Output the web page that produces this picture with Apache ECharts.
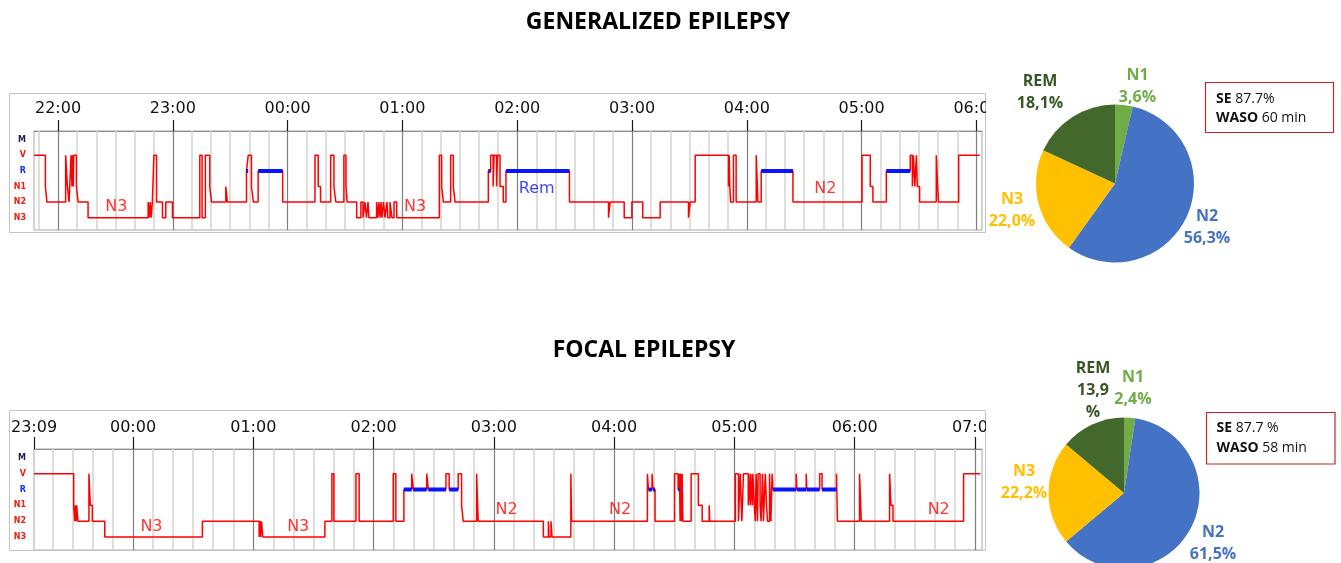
<!DOCTYPE html>
<html><head><meta charset="utf-8">
<script src="https://cdn.jsdelivr.net/npm/echarts@6/dist/echarts.min.js"></script>
<style>html,body{margin:0;padding:0;background:#fff}#c{width:1341px;height:563px}</style>
</head><body><div id="c"></div>
<script>
// ---------- DATA ----------
// Stage levels (bottom to top)
const STAGES = ['N3', 'N2', 'N1', 'R', 'V', 'M'];

// Generalized epilepsy hypnogram: start time of each epoch run (minutes since 00:00 of first day) and stage
const GEN_T = [1307.5,1313.4,1314.2,1324.0,1324.9,1325.8,1326.8,1327.3,1327.6,1328.0,1328.2,1329.6,1330.5,1335.7,
  1367.1,1367.7,1368.2,1368.7,1369.3,1370.1,1371.5,1374.6,1376.3,1379.8,1394.1,1395.3,1397.0,1399.3,1400.2,1407.7,1408.5,
  1418.5,1419.4,1421.1,1422.1,1424.6,1437.4,1454.3,1456.0,1457.2,1462.5,1464.2,1465.2,1469.4,1470.5,1471.1,
  1476.1,1478.3,1479.4,1480.4,1481.2,1482.0,1482.5,1486.5,1487.2,1487.7,1488.3,1488.8,1489.3,1490.1,1490.9,1491.9,1492.4,1493.5,1494.5,1495.6,1497.0,
  1519.3,1520.5,1521.4,1525.2,1526.6,1527.5,1544.9,1546.1,1547.4,1547.9,1549.2,1549.7,1551.0,1552.7,1554.1,
  1587.3,1607.7,1608.5,1615.9,1619.9,1625.6,1634.7,1649.5,1650.4,1653.0,1670.4,1670.8,1671.1,1671.5,1673.0,1674.4,
  1684.9,1685.8,1687.5,1704.1,1740.2,1744.5,1745.9,1752.9,1765.4,1766.5,1767.0,1767.8,1768.6,1769.1,1770.3,
  1779.0,1779.7,1780.2,1790.7];
const GEN_S = ['V','N1','N2','V','N1','N2','V','N1','V','N1','V','N1','N2','N3',
  'N2','N3','N2','N3','N2','V','N2','N3','N2','N3','V','N3','V','N1','N2','N1','N2',
  'R','V','N1','N2','R','N2','V','N1','N2','V','N1','N2','V','N1','N2',
  'N3','N2','N3','N2','N3','N2','N3','N2','N3','N2','N3','N2','N3','N2','N3','N2','N3','N2','N3','N2','N3',
  'V','N1','N2','V','N1','N2','R','V','N1','V','N1','V','N1','N2','R',
  'N2','N3','N2','N3','N2','N3','N2','N3','N2','V','N1','V','N1','N2','V','N2',
  'V','N2','R','N2','V','N1','N2','R','V','N1','V','N1','V','N1','N2',
  'V','N1','N2','V'];
const GEN_END = 1801.7;
const GEN_RANGE = [1307.45, 1802.9];
const GEN_TICKS = [1320, 1380, 1440, 1500, 1560, 1620, 1680, 1740, 1800];
const GEN_TICK_LABELS = ['22:00','23:00','00:00','01:00','02:00','03:00','04:00','05:00','06:00'];
const GEN_NOTES_T = [1350.5, 1506.6, 1570.2, 1721.0];
const GEN_NOTES_Y = [0.7, 0.7, 1.84, 1.84];
const GEN_NOTES_TEXT = ['N3', 'N3', 'Rem', 'N2'];

// Focal epilepsy hypnogram
const FOC_T = [1390.6,1410.4,1410.9,1411.3,1411.6,1411.9,1412.5,1418.0,1418.7,1419.7,1425.9,1474.6,
  1502.9,1503.4,1503.7,1504.1,1504.7,1535.7,1539.2,1540.2,1551.2,1552.8,1569.8,1571.1,
  1575.1,1579.0,1579.8,1586.5,1587.3,1596.1,1597.7,1602.2,1603.9,1604.7,1611.4,1612.2,
  1644.7,1647.2,1647.5,1648.5,1649.0,1658.4,1658.8,1696.6,1697.1,1698.9,1699.4,1700.4,
  1710.1,1711.9,1712.6,1712.9,1713.3,1713.6,1713.9,1714.3,1718.4,1722.0,1723.9,1727.4,1727.7,
  1740.5,1742.0,1742.9,1743.7,1744.5,1746.9,1747.2,1747.9,1748.2,1748.9,1749.2,1749.9,1750.4,
  1750.8,1751.5,1751.8,1752.8,1753.3,1754.0,1754.5,1755.4,1756.0,1756.5,1757.5,1758.2,1758.8,
  1759.2,1770.8,1771.2,1775.8,1776.1,1782.5,1783.7,1790.9,1791.4,1802.4,1803.3,1817.4,1818.1,1819.1,1854.3];
const FOC_S = ['V','N1','N2','N1','N2','N1','N2','V','N1','N2','N3','N2',
  'N3','N2','N3','N2','N3','N2','V','N2','V','N2','V','N2',
  'R','V','R','V','R','V','R','V','N1','N2','V','N2',
  'N3','N2','N3','N2','N3','V','N2','V','R','V','R','N2',
  'V','R','V','N2','V','N2','V','N2','V','N1','N2','N1','N2',
  'V','N2','V','N2','V','N1','V','N1','V','N1','V','N1','N2',
  'V','N2','V','N1','N2','V','N2','V','N1','N2','V','N2','V',
  'R','V','R','V','R','V','R','V','N2','V','N2','V','N1','N2','V'];
const FOC_END = 1862.7;
const FOC_RANGE = [1390.6, 1863.5];
const FOC_TICKS = [1390.6, 1440, 1500, 1560, 1620, 1680, 1740, 1800, 1860];
const FOC_TICK_LABELS = ['23:09','00:00','01:00','02:00','03:00','04:00','05:00','06:00','07:00'];
const FOC_NOTES_T = [1449.2, 1522.4, 1626.4, 1683.0, 1841.9];
const FOC_NOTES_Y = [0.66, 0.66, 1.7, 1.7, 1.7];
const FOC_NOTES_TEXT = ['N3', 'N3', 'N2', 'N2', 'N2'];

// Pie charts (order: N1, N2, N3, REM)
const PIE_NAMES = ['N1', 'N2', 'N3', 'REM'];
const GEN_PIE = [3.6, 56.3, 22.0, 18.1];
const FOC_PIE = [2.4, 61.5, 22.2, 13.9];

// Stats boxes
const STAT_NAMES = ['SE', 'WASO'];
const GEN_STATS = ['87.7%', '60 min'];
const FOC_STATS = ['87.7 %', '58 min'];

const TITLES = ['GENERALIZED EPILEPSY', 'FOCAL EPILEPSY'];

// ---------- STYLE ----------
const RED = '#ff0000', BLUE = '#0a14ff';
const PIE_COLORS = ['#70AD47', '#4472C4', '#FFC000', '#43682B'];
const PIE_LABEL_COLORS = ['#70AD47', '#4472C4', '#FFC000', '#375623'];
const GEN_LABEL_XY = [[1137.5, 86], [1207, 227.5], [1012, 210], [1040, 92.5]];
const FOC_LABEL_XY = [[1133, 388], [1213, 543.5], [1024, 482.5], [1093, 390]];

const lvl = s => STAGES.indexOf(s);

function stepData(T, S, end) {
  const d = T.map((t, i) => [t, lvl(S[i])]);
  d.push([end, lvl(S[S.length - 1])]);
  return d;
}
function remData(T, S, end) {
  const d = [];
  S.forEach((s, i) => {
    if (s === 'R') {
      const t2 = i + 1 < T.length ? T[i + 1] : end;
      d.push([T[i], 3], [t2, 3], [t2, '-']);
    }
  });
  return d;
}
function gridLines(range) {
  const minor = [], major = [];
  const start = Math.ceil(range[0] / 10) * 10;
  for (let t = start; t < range[1]; t += 10) {
    if (t % 60 === 0) major.push({ xAxis: t }); else minor.push({ xAxis: t });
  }
  return { minor, major };
}
function notes(T, Y, TXT) {
  return T.map((t, i) => ({ value: [t, Y[i]], name: TXT[i],
    label: { color: TXT[i] === 'Rem' ? BLUE : RED } }));
}

const yLabelRich = {
  m: { color: '#1c1c4c', fontWeight: 'bold', fontSize: 8, fontFamily: 'DejaVu Sans' },
  v: { color: '#ff1010', fontWeight: 'bold', fontSize: 8, fontFamily: 'DejaVu Sans' },
  r: { color: '#1a2aff', fontWeight: 'bold', fontSize: 8, fontFamily: 'DejaVu Sans' },
  n: { color: '#f51a0a', fontWeight: 'bold', fontSize: 8, fontFamily: 'DejaVu Sans' }
};
const yKeys = ['n', 'n', 'n', 'r', 'v', 'm'];

function makeX(idx, range, ticks, labels, margin, tickLen) {
  return {
    type: 'value', gridIndex: idx, position: 'top', min: range[0], max: range[1],
    axisLine: { show: true, onZero: false, lineStyle: { color: '#8c8c8c', width: 1 } },
    axisTick: { show: true, customValues: ticks, length: tickLen, lineStyle: { color: '#1a1a1a', width: 1.2 } },
    axisLabel: {
      customValues: ticks, margin: margin, fontSize: 16, fontFamily: 'DejaVu Sans', color: '#111',
      formatter: v => { const i = ticks.findIndex(t => Math.abs(t - v) < 0.01); return i >= 0 ? labels[i] : ''; }
    },
    splitLine: { show: false }
  };
}
function makeY(idx, min, max) {
  return {
    type: 'value', gridIndex: idx, min: min, max: max,
    axisLine: { show: false, onZero: false }, axisTick: { show: false }, splitLine: { show: false },
    axisLabel: {
      customValues: [0, 1, 2, 3, 4, 5], margin: 8, rich: yLabelRich,
      formatter: v => { const k = Math.round(v); return '{' + yKeys[k] + '|' + STAGES[k] + '}'; }
    }
  };
}

function hypSeries(idx, T, S, end, range, NT, NY, NTXT) {
  const g = gridLines(range);
  return [
    { type: 'line', xAxisIndex: idx, yAxisIndex: idx, data: [], silent: true, z: 1,
      markLine: { silent: true, symbol: 'none', z: 1, label: { show: false }, animation: false,
        lineStyle: { color: '#d6d3cc', width: 1.5, type: 'solid' }, data: g.minor } },
    { type: 'line', xAxisIndex: idx, yAxisIndex: idx, data: [], silent: true, z: 2,
      markLine: { silent: true, symbol: 'none', z: 2, label: { show: false }, animation: false,
        lineStyle: { color: '#7f7f7f', width: 1.2, type: 'solid' }, data: g.major } },
    { type: 'line', xAxisIndex: idx, yAxisIndex: idx, step: 'end', showSymbol: false, z: 10,
      lineStyle: { color: RED, width: 1.5 }, data: stepData(T, S, end), animation: false },
    { type: 'line', xAxisIndex: idx, yAxisIndex: idx, showSymbol: false, z: 11, connectNulls: false,
      lineStyle: { color: BLUE, width: 4, cap: 'butt' }, data: remData(T, S, end), animation: false },
    { type: 'scatter', xAxisIndex: idx, yAxisIndex: idx, symbolSize: 2, z: 12,
      itemStyle: { color: 'rgba(0,0,0,0)' },
      label: { show: true, position: 'inside', formatter: '{b}', fontSize: 16, fontFamily: 'DejaVu Sans' },
      data: notes(NT, NY, NTXT), animation: false }
  ];
}

function pieSeries(values, center, radius, labelXY, breakName) {
  return {
    type: 'pie', center: center, radius: radius, startAngle: 90, clockwise: true, animation: false,
    silent: true,
    data: values.map((v, i) => ({ name: PIE_NAMES[i], value: v,
      itemStyle: { color: PIE_COLORS[i] },
      label: { color: PIE_LABEL_COLORS[i] } })),
    label: {
      show: true, position: 'outside', fontFamily: 'Open Sans', fontWeight: 'bold', fontSize: 16, lineHeight: 22,
      align: 'center',
      formatter: p => p.name + '\n' + p.value.toFixed(1).replace('.', ',') + (p.name === breakName ? '\n%' : '%')
    },
    labelLine: { show: false },
    labelLayout: p => ({ x: labelXY[p.dataIndex][0], y: labelXY[p.dataIndex][1], align: 'center', verticalAlign: 'middle' })
  };
}

function statText(vals) {
  return STAT_NAMES.map((n, i) => '{b|' + n + '} ' + vals[i]).join('\n');
}

const option = {
  backgroundColor: '#fff',
  animation: false,
  grid: [
    { left: 34, top: 131, width: 948, height: 99, show: true, borderColor: '#a6a6a6', borderWidth: 1, backgroundColor: '#fff' },
    { left: 34, top: 449, width: 948, height: 101, show: true, borderColor: '#a6a6a6', borderWidth: 1, backgroundColor: '#fff' }
  ],
  xAxis: [
    makeX(0, GEN_RANGE, GEN_TICKS, GEN_TICK_LABELS, 14, 11),
    makeX(1, FOC_RANGE, FOC_TICKS, FOC_TICK_LABELS, 13, 12)
  ],
  yAxis: [makeY(0, -0.79, 5.56), makeY(1, -0.82, 5.56)],
  series: [
    ...hypSeries(0, GEN_T, GEN_S, GEN_END, GEN_RANGE, GEN_NOTES_T, GEN_NOTES_Y, GEN_NOTES_TEXT),
    ...hypSeries(1, FOC_T, FOC_S, FOC_END, FOC_RANGE, FOC_NOTES_T, FOC_NOTES_Y, FOC_NOTES_TEXT),
    pieSeries(GEN_PIE, [1115, 183.5], 79, GEN_LABEL_XY, null),
    pieSeries(FOC_PIE, [1124, 493], 75.5, FOC_LABEL_XY, 'REM')
  ],
  graphic: [
    { type: 'rect', z: 0, silent: true, shape: { x: 9.5, y: 93.5, width: 976, height: 139 },
      style: { fill: 'none', stroke: '#c4c4c4', lineWidth: 1 } },
    { type: 'rect', z: 0, silent: true, shape: { x: 9.5, y: 410.5, width: 976, height: 140 },
      style: { fill: 'none', stroke: '#c4c4c4', lineWidth: 1 } },
    { type: 'rect', z: 100, silent: true, shape: { x: 986, y: 96, width: 16, height: 24 }, style: { fill: '#fff' } },
    { type: 'rect', z: 100, silent: true, shape: { x: 986, y: 413, width: 16, height: 24 }, style: { fill: '#fff' } },
    { type: 'text', z: 100, silent: true, x: 658, y: 22,
      style: { text: TITLES[0], font: 'bold 23px "Open Sans"', fill: '#000', align: 'center', verticalAlign: 'middle' } },
    { type: 'text', z: 100, silent: true, x: 644, y: 350,
      style: { text: TITLES[1], font: 'bold 23px "Open Sans"', fill: '#000', align: 'center', verticalAlign: 'middle' } },
    { type: 'rect', z: 100, silent: true, shape: { x: 1205.5, y: 82.5, width: 128, height: 50 },
      style: { fill: '#fff', stroke: '#c0282d', lineWidth: 1.2 } },
    { type: 'text', z: 101, silent: true, x: 1216, y: 108.5,
      style: { text: statText(GEN_STATS), font: '14px "Open Sans"', fill: '#111', lineHeight: 19.5,
        verticalAlign: 'middle', align: 'left',
        rich: { b: { fontWeight: 'bold', fontFamily: 'Open Sans', fontSize: 14, fill: '#111' } } } },
    { type: 'rect', z: 100, silent: true, shape: { x: 1206.5, y: 412.5, width: 128.5, height: 51.5 },
      style: { fill: '#fff', stroke: '#c0282d', lineWidth: 1.2 } },
    { type: 'text', z: 101, silent: true, x: 1216.5, y: 438.3,
      style: { text: statText(FOC_STATS), font: '14px "Open Sans"', fill: '#111', lineHeight: 20,
        verticalAlign: 'middle', align: 'left',
        rich: { b: { fontWeight: 'bold', fontFamily: 'Open Sans', fontSize: 14, fill: '#111' } } } }
  ]
};

const chart = echarts.init(document.getElementById('c'), null, { renderer: 'canvas' });
chart.setOption(option);
</script>
</body></html>
